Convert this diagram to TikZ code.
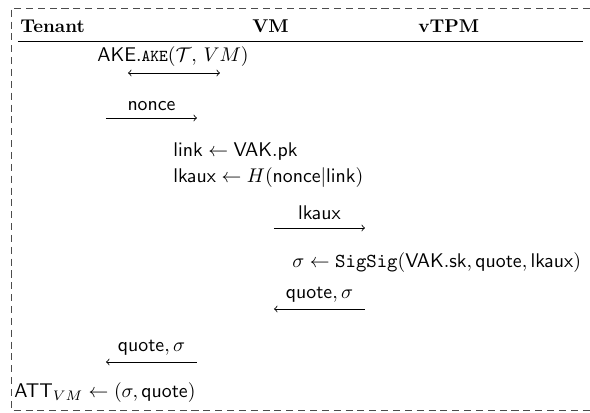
\RequirePackage{fix-cm}
\documentclass[tikz,border=0pt]{standalone}
\usepackage{amsmath}
\tikzset{
  txt/.style={inner sep=0pt, anchor=base west, font=\fontsize{10.7}{13}\selectfont},
  lbl/.style={inner sep=0pt, anchor=base, font=\fontsize{10.7}{13}\selectfont},
  hdr/.style={inner sep=0pt, anchor=base west, font=\bfseries},
  msg/.style={line width=0.45pt, black},
  frame/.style={dash pattern=on 3.8pt off 2.6pt, line width=0.45pt, black!70}
}
\begin{document}
\begin{tikzpicture}[x=0.54pt,y=-0.54pt]
\useasboundingbox (0,0) rectangle (590,413);
% frame
\coordinate (ftr) at (590,8);
\coordinate (ftl) at (11,8);
\coordinate (fbl) at (11,410);
\coordinate (fbr) at (590,410);
\draw[frame] (ftr) -- (ftl) -- (fbl) -- (fbr);
% header
\node[hdr] (tenant) at (20,33) {Tenant};
\node[hdr] (vm) at (252,33) {VM};
\node[hdr] (vtpm) at (418,33) {vTPM};
\coordinate (hl) at (18,41);
\coordinate (hr) at (583,41);
\draw[line width=0.45pt] (hl) -- (hr);
% AKE
\node[lbl] (ake) at (173,62) {$\mathsf{AKE}.\text{\ttfamily\fontsize{9}{11}\selectfont AKE}(\mathcal{T},\,VM)$};
\coordinate (a1) at (128,73);
\coordinate (a2) at (220,73);
\draw[msg,<->] (a1) -- (a2);
% nonce
\node[lbl] (nonce) at (151.5,111) {$\mathsf{nonce}$};
\coordinate (n1) at (106,118);
\coordinate (n2) at (197,118);
\draw[msg,->] (n1) -- (n2);
% VM computations
\node[txt] (link) at (173,157) {$\mathsf{link}\leftarrow\mathsf{VAK.pk}$};
\node[txt] (lkaux) at (173,183) {$\mathsf{lkaux}\leftarrow H(\mathsf{nonce}|\mathsf{link})$};
% lkaux message
\node[lbl] (lkm) at (319.5,220) {$\mathsf{lkaux}$};
\coordinate (l1) at (274,228);
\coordinate (l2) at (365,228);
\draw[msg,->] (l1) -- (l2);
% vTPM sign
\node[txt] (sig) at (292,268) {$\sigma\leftarrow\mathtt{SigSig}(\mathsf{VAK.sk},\mathsf{quote},\mathsf{lkaux})$};
% quote back to VM
\node[lbl] (q1) at (319.5,299) {$\mathsf{quote},\sigma$};
\coordinate (qa1) at (365,309);
\coordinate (qa2) at (274,309);
\draw[msg,->] (qa1) -- (qa2);
% quote back to Tenant
\node[lbl] (q2) at (151.5,352) {$\mathsf{quote},\sigma$};
\coordinate (qb1) at (197,362);
\coordinate (qb2) at (106,362);
\draw[msg,->] (qb1) -- (qb2);
% result
\node[txt] (att) at (14,398) {$\mathsf{ATT}_{VM}\leftarrow(\sigma,\mathsf{quote})$};
\end{tikzpicture}
\end{document}
